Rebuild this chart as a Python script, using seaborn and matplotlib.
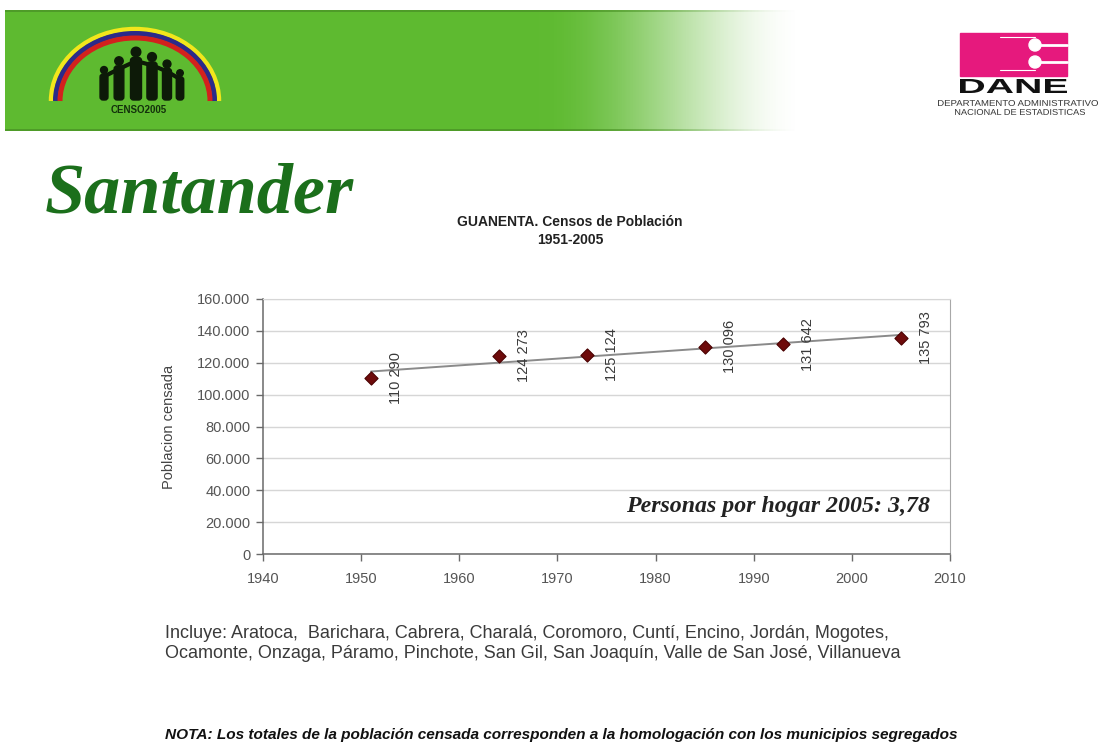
import numpy as np
import pandas as pd
import matplotlib
matplotlib.use("Agg")
import matplotlib.pyplot as plt
import seaborn as sns
from matplotlib.ticker import FuncFormatter, FixedLocator
from matplotlib.patches import Rectangle, Arc, Circle, PathPatch, FancyBboxPatch
from matplotlib.textpath import TextPath
from matplotlib.font_manager import FontProperties
from matplotlib.transforms import Affine2D

# ---------------- data ----------------
years = [1951, 1964, 1973, 1985, 1993, 2005]
population = [110290, 124273, 125124, 130096, 131642, 135793]
x_ticks = [1940, 1950, 1960, 1970, 1980, 1990, 2000, 2010]
y_ticks = [0, 20000, 40000, 60000, 80000, 100000, 120000, 140000, 160000]

page_title = "Santander"
chart_title_1 = "GUANENTA. Censos de Población"
chart_title_2 = "1951-2005"
y_label = "Poblacion censada"
note_inside = "Personas por hogar 2005: 3,78"
includes_1 = "Incluye: Aratoca,  Barichara, Cabrera, Charalá, Coromoro, Cuntí, Encino, Jordán, Mogotes,"
includes_2 = "Ocamonte, Onzaga, Páramo, Pinchote, San Gil, San Joaquín, Valle de San José, Villanueva"
nota = "NOTA: Los totales de la población censada corresponden a la homologación con los municipios segregados"

# ---------------- style ----------------
sns.set_style("white")
plt.rcParams['font.family'] = ['Liberation Sans', 'DejaVu Sans']

fig = plt.figure(figsize=(11, 7.52), dpi=100)

# decoration layer in pixel coordinates
deco = fig.add_axes([0, 0, 1, 1])
deco.axis('off')

# green header band with fade to white
green = np.array([0.37, 0.73, 0.19])
xs = np.linspace(5, 805, 800)
t = np.clip((xs - 540) / (805 - 540), 0, 1)
alpha = 1 - (3 * t ** 2 - 2 * t ** 3)
img = np.zeros((1, xs.size, 4))
img[..., :3] = green
img[..., 3] = alpha
deco.imshow(img, extent=[5, 805, 131, 10], aspect='auto', interpolation='bilinear', zorder=0)
edge = np.zeros((1, xs.size, 4))
edge[..., :3] = green * 0.8
edge[..., 3] = alpha * 0.8
deco.imshow(edge, extent=[5, 805, 12, 10], aspect='auto', interpolation='bilinear', zorder=1)
deco.imshow(edge, extent=[5, 805, 131, 129], aspect='auto', interpolation='bilinear', zorder=1)

# CENSO 2005 logo (simplified)
cx, cy = 135, 101
for rx, ry, col, lw in [(84, 72, '#f2e61c', 3.2), (79.5, 67.5, '#2b2a8a', 3.6), (75, 63, '#d3211d', 3.6)]:
    deco.add_patch(Arc((cx, cy), 2 * rx, 2 * ry, theta1=180, theta2=360, color=col, lw=lw, zorder=2))
people = [(104, 70, 0.72), (119, 61, 0.88), (136, 52, 1.0), (152, 57, 0.92), (167, 64, 0.82), (180, 73, 0.68)]
for px, hy, s in people:
    deco.add_patch(Circle((px, hy), 4.8 * s, color='#0d1a08', zorder=3))
    deco.add_patch(FancyBboxPatch((px - 5.5 * s, hy + 5.5 * s), 11 * s, 100 - (hy + 5.5 * s),
                                  boxstyle="round,pad=0,rounding_size=3", color='#0d1a08', zorder=3))
sh = [(p[0], p[1] + 9 * p[2]) for p in people]
deco.plot([p[0] for p in sh], [p[1] for p in sh], color='#0d1a08', lw=3, zorder=3, solid_capstyle='round')
deco.text(139, 110, "CENSO2005", ha='center', va='center', fontsize=7, fontweight='bold', color='#13300c', zorder=3)


def fit_text(s, x0, x1, ytop, ybot, color, weight='bold'):
    tp = TextPath((0, 0), s, size=10, prop=FontProperties(family='Liberation Sans', weight=weight))
    bb = tp.get_extents()
    sx = (x1 - x0) / bb.width
    sy = (ybot - ytop) / bb.height
    tr = Affine2D().translate(-bb.x0, -bb.y0).scale(sx, -sy).translate(x0, ybot)
    deco.add_patch(PathPatch(tr.transform_path(tp), fc=color, ec='none', zorder=3))


# DANE logo (simplified)
deco.add_patch(Rectangle((960, 33), 107, 43, color='#e6197d', zorder=2))
for yy in (45, 62):
    deco.add_patch(Circle((1035, yy), 6, color='white', zorder=3))
    deco.plot([1035, 1067], [yy, yy], color='white', lw=2, zorder=3)
deco.plot([1000, 1035], [37, 37], color='white', lw=0.8, zorder=3)
deco.plot([1000, 1035], [70, 70], color='white', lw=0.8, zorder=3)
fit_text("DANE", 960, 1067, 79, 93, '#111111')
fit_text("DEPARTAMENTO ADMINISTRATIVO", 938, 1098, 100, 106, '#333333', weight='normal')
fit_text("NACIONAL DE ESTADISTICAS", 955, 1085, 109, 115, '#333333', weight='normal')

# page title and texts
deco.text(45, 195, page_title, ha='left', va='center', family='Liberation Serif', style='italic',
          fontweight='bold', fontsize=52, color='#1b6f1b')
deco.text(570, 222, chart_title_1, ha='center', va='center', fontsize=10, fontweight='bold', color='#222222')
deco.text(570, 240, chart_title_2, ha='center', va='center', fontsize=10, fontweight='bold', color='#222222')
deco.text(165, 633, includes_1, ha='left', va='center', fontsize=13, color='#3a3a3a')
deco.text(165, 653, includes_2, ha='left', va='center', fontsize=13, color='#3a3a3a')
deco.text(165, 735, nota, ha='left', va='center', fontsize=11.1, fontweight='bold', style='italic', color='#111111')

deco.set_xlim(0, 1100)
deco.set_ylim(752, 0)

# ---------------- chart ----------------
ax = fig.add_axes([263 / 1100, 1 - 554 / 752, (950 - 263) / 1100, (554 - 299) / 752])
df = pd.DataFrame({'Año': years, 'Población': population})
sns.regplot(data=df, x='Año', y='Población', ax=ax, ci=None, truncate=True, marker='D',
            scatter_kws=dict(s=45, color='#6e0b0b', edgecolor='#4a0000', linewidths=0.8, zorder=4, alpha=1),
            line_kws=dict(color='#8a8a8a', lw=1.4, zorder=3))

ax.set_xlim(1940, 2010)
ax.set_ylim(0, 160000)
ax.xaxis.set_major_locator(FixedLocator(x_ticks))
ax.yaxis.set_major_locator(FixedLocator(y_ticks))
ax.yaxis.set_major_formatter(FuncFormatter(lambda v, p: f"{int(v):,}".replace(",", ".")))
ax.set_xlabel("")
ax.set_ylabel(y_label, fontsize=10.5, color='#444444')
ax.yaxis.set_label_coords(-0.127, 0.5)

ax.yaxis.grid(True, color='#d6d6d6', lw=1)
ax.xaxis.grid(False)
ax.set_axisbelow(True)
for side in ('left', 'bottom'):
    ax.spines[side].set_color('#6a6a6a')
    ax.spines[side].set_linewidth(1.1)
ax.spines['top'].set_color('#d6d6d6')
ax.spines['right'].set_color('#a8a8a8')
ax.tick_params(axis='both', which='major', direction='out', length=5, width=1, color='#6a6a6a',
               labelcolor='#555555', labelsize=10.5, bottom=True, left=True)
ax.tick_params(axis='x', pad=8)
ax.tick_params(axis='y', pad=4)

for xv, yv in zip(years, population):
    ax.annotate(f"{yv:,}".replace(",", " "), (xv, yv), xytext=(18, 0), textcoords='offset points',
                rotation=90, ha='center', va='center', fontsize=10.5, color='#3a3a3a', zorder=5)

ax.text(2008, 29500, note_inside, ha='right', va='center', family='Liberation Serif', style='italic',
        fontweight='bold', fontsize=17.2, color='#222222')

fig.savefig("out.png", dpi=100)
